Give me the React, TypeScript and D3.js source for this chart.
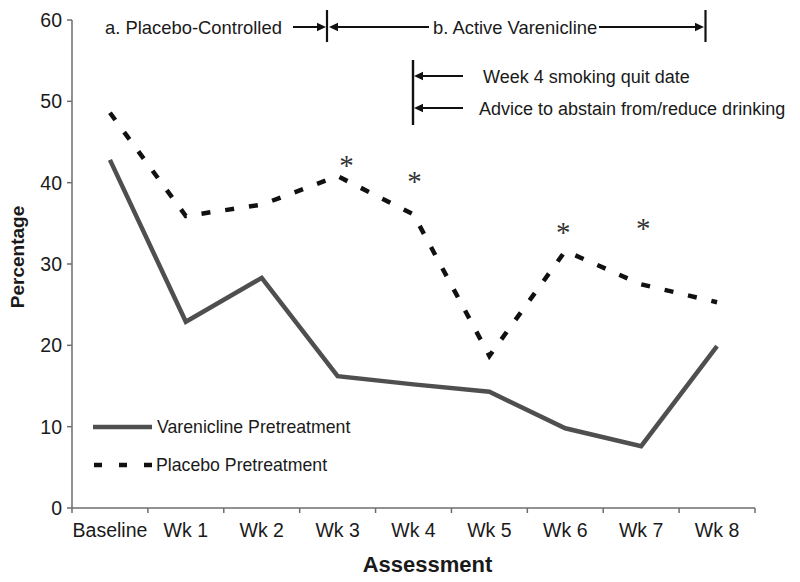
import React from "react";
import * as d3 from "d3";

const categories = ["Baseline", "Wk 1", "Wk 2", "Wk 3", "Wk 4", "Wk 5", "Wk 6", "Wk 7", "Wk 8"];
const vareniclinePre = [42.8, 22.9, 28.3, 16.2, 15.2, 14.3, 9.8, 7.6, 19.9];
const placeboPre = [48.6, 35.9, 37.3, 40.8, 36.1, 18.7, 31.6, 27.5, 25.3];
const yTicks = [0, 10, 20, 30, 40, 50, 60];
// significance markers: category and value level of asterisk
const starCats = ["Wk 3", "Wk 4", "Wk 6", "Wk 7"];
const starVals = [42.8, 40.8, 34.6, 35.1];
const starOffsets = [9, 1, -2, 2];

const W = 800;
const H = 582;
const FONT = "'Liberation Sans', Arial, Helvetica, sans-serif";

export default function App() {
  const x = d3.scaleBand<string>().domain(categories).range([72, 755]).padding(0);
  const y = d3.scaleLinear().domain([0, 60]).range([508, 20]);
  const cx = (c: string) => (x(c) as number) + x.bandwidth() / 2;

  const line = d3
    .line<number>()
    .x((_, i) => cx(categories[i]))
    .y((d) => y(d));

  const boundaries = categories.map((c) => x(c) as number).concat([x.range()[1]]);

  const axisColor = "#6e6e6e";
  const textColor = "#1a1a1a";

  const arrowHead = (tx: number, ty: number, dir: 1 | -1) => {
    const L = 9, h = 4.2;
    return `M${tx},${ty} L${tx - dir * L},${ty - h} L${tx - dir * L},${ty + h} Z`;
  };

  return (
    <svg width={W} height={H} style={{ position: "absolute", left: 0, top: 0, background: "#fff" }}>
      <rect x={0} y={0} width={W} height={H} fill="#fff" />
      {/* Y axis */}
      <line x1={72} x2={72} y1={y(60)} y2={y(0)} stroke={axisColor} strokeWidth={1.5} />
      {yTicks.map((t) => (
        <g key={t}>
          <line x1={67} x2={72} y1={y(t)} y2={y(t)} stroke={axisColor} strokeWidth={1.5} />
          <text
            x={62}
            y={y(t)}
            textAnchor="end"
            dominantBaseline="central"
            fontFamily={FONT}
            fontSize={19.5}
            fill={textColor}
          >
            {t}
          </text>
        </g>
      ))}
      {/* X axis */}
      <line x1={72} x2={755} y1={y(0)} y2={y(0)} stroke={axisColor} strokeWidth={1.5} />
      {boundaries.map((b, i) => (
        <line key={i} x1={b} x2={b} y1={y(0)} y2={y(0) + 5} stroke={axisColor} strokeWidth={1.5} />
      ))}
      {categories.map((c) => (
        <text key={c} x={cx(c)} y={537} textAnchor="middle" fontFamily={FONT} fontSize={19.5} fill={textColor}>
          {c}
        </text>
      ))}
      {/* Axis titles */}
      <text
        x={427.5}
        y={572}
        textAnchor="middle"
        fontFamily={FONT}
        fontSize={22}
        fontWeight="bold"
        fill={textColor}
      >
        Assessment
      </text>
      <text
        transform={`translate(24,257) rotate(-90)`}
        textAnchor="middle"
        fontFamily={FONT}
        fontSize={19}
        fontWeight="bold"
        fill={textColor}
      >
        Percentage
      </text>

      {/* Series */}
      <path d={line(vareniclinePre) || ""} fill="none" stroke="#4f4f4f" strokeWidth={4.5} strokeLinejoin="miter" />
      <path
        d={line(placeboPre) || ""}
        fill="none"
        stroke="#111"
        strokeWidth={4.5}
        strokeDasharray="9,15"
        strokeLinejoin="miter"
      />

      {/* Asterisks */}
      {starCats.map((c, i) => (
        <text
          key={c}
          x={cx(c) + starOffsets[i]}
          y={y(starVals[i])}
          textAnchor="middle"
          dominantBaseline="central"
          fontFamily="'Liberation Serif', 'Times New Roman', serif"
          fontSize={29}
          fill="#333"
          dy={5}
        >
          *
        </text>
      ))}

      {/* Legend */}
      <line x1={93} x2={152} y1={427} y2={427} stroke="#4f4f4f" strokeWidth={4.5} />
      <text x={157} y={433} fontFamily={FONT} fontSize={17.7} fill={textColor}>
        Varenicline Pretreatment
      </text>
      <line x1={94} x2={152} y1={465} y2={465} stroke="#111" strokeWidth={4.5} strokeDasharray="8,17" />
      <text x={156} y={471} fontFamily={FONT} fontSize={17.7} fill={textColor}>
        Placebo Pretreatment
      </text>

      {/* Top annotations */}
      <text x={105} y={33.5} fontFamily={FONT} fontSize={18.4} fill={textColor}>
        a. Placebo-Controlled
      </text>
      <line x1={293} x2={320} y1={27} y2={27} stroke="#111" strokeWidth={2} />
      <path d={arrowHead(326, 27, 1)} fill="#111" />
      <line x1={327} x2={327} y1={10} y2={42} stroke="#111" strokeWidth={2.2} />
      <path d={arrowHead(329, 27, -1)} fill="#111" />
      <line x1={335} x2={429} y1={27} y2={27} stroke="#111" strokeWidth={2} />
      <text x={433} y={33.5} fontFamily={FONT} fontSize={18.4} fill={textColor}>
        b. Active Varenicline
      </text>
      <line x1={599} x2={697} y1={27} y2={27} stroke="#111" strokeWidth={2} />
      <path d={arrowHead(704, 27, 1)} fill="#111" />
      <line x1={705.5} x2={705.5} y1={10} y2={42} stroke="#111" strokeWidth={2.2} />

      <line x1={413} x2={413} y1={60} y2={125} stroke="#111" strokeWidth={2.4} />
      <line x1={420} x2={463} y1={76} y2={76} stroke="#111" strokeWidth={2} />
      <path d={arrowHead(414, 76, -1)} fill="#111" />
      <line x1={420} x2={463} y1={108} y2={108} stroke="#111" strokeWidth={2} />
      <path d={arrowHead(414, 108, -1)} fill="#111" />
      <text x={483} y={82.5} fontFamily={FONT} fontSize={18} fill={textColor}>
        Week 4 smoking quit date
      </text>
      <text x={479} y={114.5} fontFamily={FONT} fontSize={18} fill={textColor}>
        Advice to abstain from/reduce drinking
      </text>
    </svg>
  );
}
